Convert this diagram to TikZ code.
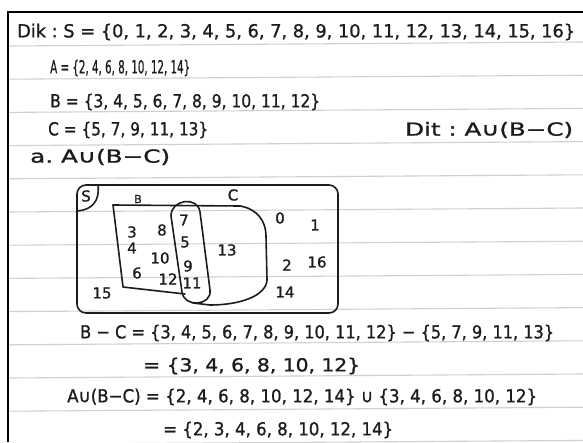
\documentclass[tikz,border=0pt]{standalone}
\usepackage{fontspec}
\setmainfont{DejaVu Sans}[BoldFont={DejaVu Sans},BoldFeatures={FakeBold=1.1}]
\usepackage{graphicx}
\definecolor{ink}{RGB}{28,28,28}
\definecolor{paperrule}{RGB}{208,208,208}
\newcommand{\hwtext}[2]{\resizebox{#1pt}{\height}{#2}}
\begin{document}
\begin{tikzpicture}[x=1pt,y=-1pt,
  hw/.style={inner sep=0pt, text=ink, font=\fontsize{18}{20}\selectfont\bfseries, anchor=west},
  num/.style={inner sep=0pt, text=ink, font=\fontsize{15}{17}\selectfont\bfseries},
  pen/.style={draw=ink, line width=1.6pt, line join=round, line cap=round}]
\useasboundingbox (0,0) rectangle (583,442);
\fill[white] (0,0) rectangle (583,442);
% ruled paper
\foreach \k in {0,...,12}
  \draw[paperrule, line width=1.1pt] (8,{46+33.2*\k}) -- (583,{42+33.2*\k});
% frame
\draw[black, line width=2pt] (8,442) -- (8,12) -- (583,12);

% given data
\node[hw] (r1) at (17,32) {\hwtext{558}{Dik :\ S = \{0, 1, 2, 3, 4, 5, 6, 7, 8, 9, 10, 11, 12, 13, 14, 15, 16\}}};
\node[hw] (r2) at (50,68) {\hwtext{140}{A = \{2, 4, 6, 8, 10, 12, 14\}}};
\node[hw] (r3) at (50,102) {\hwtext{270}{B = \{3, 4, 5, 6, 7, 8, 9, 10, 11, 12\}}};
\node[hw] (r4) at (48,130) {\hwtext{160}{C = \{5, 7, 9, 11, 13\}}};
\node[hw] (r4b) at (405,130) {\hwtext{168}{Dit :\ A∪(B−C)}};
\node[hw] (r5) at (30,157) {\hwtext{140}{a.\ A∪(B−C)}};

% Venn diagram
\draw[pen, rounded corners=9] (77,185) rectangle (338,313);
\draw[pen] (98,185) .. controls (100,201) and (92,210) .. (77,211);
\node[num] (lS) at (86,196) {S};
% B and C outline
\draw[pen] (113,205) -- (240,206) .. controls (258,209) and (266,222) .. (266,236)
  -- (267,280) .. controls (266,296) and (240,305) .. (210,305) -- (193,303);
\draw[pen] (113,205) -- (123,287) -- (185,294);
% B intersect C
\draw[pen] (171,216) .. controls (171,199) and (198,196) .. (200,212)
  -- (210,290) .. controls (212,306) and (184,308) .. (182,292) -- cycle;
\node[num, font=\fontsize{11}{12}\selectfont\bfseries] (lB) at (138,199) {B};
\node[num] (lC) at (233,195) {C};
% elements
\node[num] (n3) at (132,232) {3};
\node[num] (n8) at (162,230) {8};
\node[num] (n4) at (132,248) {4};
\node[num] (n10) at (160,258) {10};
\node[num] (n6) at (137,273) {6};
\node[num] (n12) at (168,279) {12};
\node[num] (n7) at (184,220) {7};
\node[num] (n5) at (185,242) {5};
\node[num] (n9) at (188,266) {9};
\node[num] (n11) at (192,283) {11};
\node[num] (n13) at (227,250) {13};
\node[num] (n0) at (280,218) {0};
\node[num] (n1) at (315,225) {1};
\node[num] (n2) at (287,265) {2};
\node[num] (n16) at (317,262) {16};
\node[num] (n14) at (285,292) {14};
\node[num] (n15) at (102,293) {15};

% working
\node[hw] (w1) at (80,333) {\hwtext{474}{B − C = \{3, 4, 5, 6, 7, 8, 9, 10, 11, 12\} − \{5, 7, 9, 11, 13\}}};
\node[hw] (w2) at (143,366) {\hwtext{217}{= \{3, 4, 6, 8, 10, 12\}}};
\node[hw] (w3) at (67,397) {\hwtext{470}{A∪(B−C) = \{2, 4, 6, 8, 10, 12, 14\} ∪ \{3, 4, 6, 8, 10, 12\}}};
\node[hw] (w4) at (163,430) {\hwtext{230}{= \{2, 3, 4, 6, 8, 10, 12, 14\}}};
\end{tikzpicture}
\end{document}
